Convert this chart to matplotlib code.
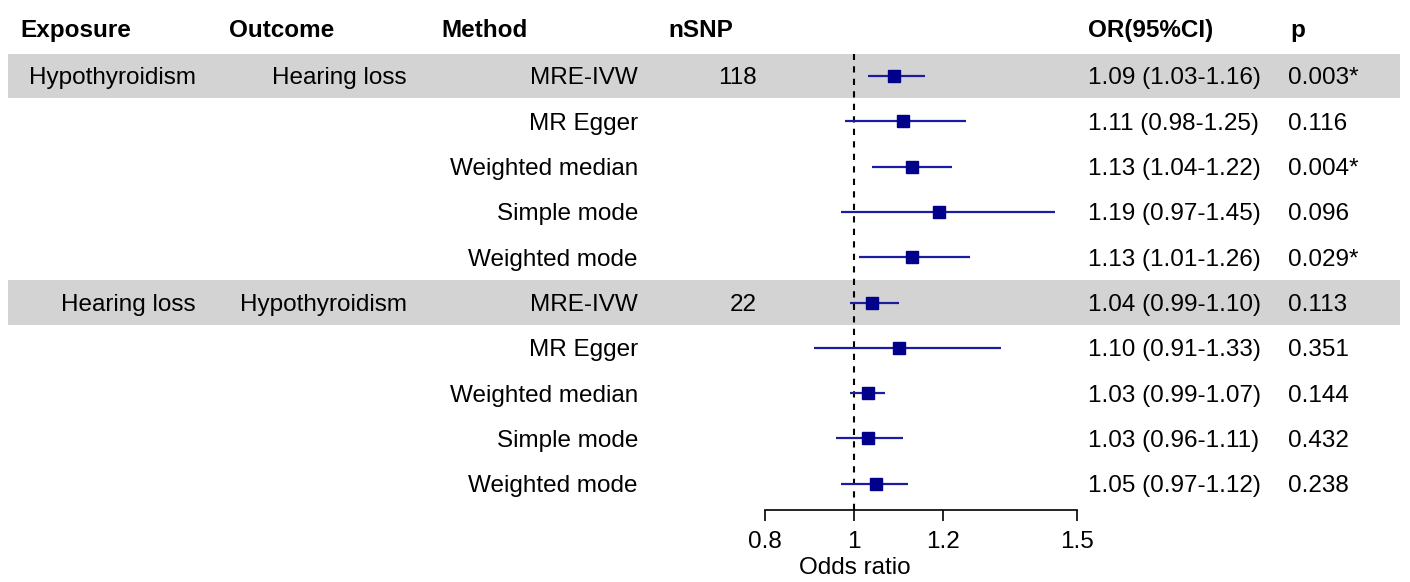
import matplotlib.pyplot as plt

# Data
exposures = ["Hypothyroidism", "", "", "", "", "Hearing loss", "", "", "", ""]
outcomes = ["Hearing loss", "", "", "", "", "Hypothyroidism", "", "", "", ""]
methods = ["MRE-IVW", "MR Egger", "Weighted median", "Simple mode", "Weighted mode"] * 2
nsnps = ["118", "", "", "", "", "22", "", "", "", ""]
or_vals = [1.09, 1.11, 1.13, 1.19, 1.13, 1.04, 1.10, 1.03, 1.03, 1.05]
ci_low = [1.03, 0.98, 1.04, 0.97, 1.01, 0.99, 0.91, 0.99, 0.96, 0.97]
ci_high = [1.16, 1.25, 1.22, 1.45, 1.26, 1.10, 1.33, 1.07, 1.11, 1.12]
p_labels = ["0.003*", "0.116", "0.004*", "0.096", "0.029*",
            "0.113", "0.351", "0.144", "0.432", "0.238"]
shaded_rows = [0, 5]
x_ticks = [0.8, 1, 1.2, 1.5]
x_ticklabels = ["0.8", "1", "1.2", "1.5"]

plt.rcParams['font.family'] = ['Liberation Sans', 'DejaVu Sans']
fs = 17.5

W, H = 1410, 582
fig = plt.figure(figsize=(W / 100, H / 100), dpi=100)

# row layout: row r centered at pixel 76 + 45.3*r
row0, step = 76.0, 45.3
def px_to_row(p):
    return (p - row0) / step

base_off = 8.5 / step  # baseline sits a bit below the row centre

# background axes for the table (x in pixels, y in row units)
ax0 = fig.add_axes([0, 0, 1, 1])
ax0.set_xlim(0, W)
ax0.set_ylim(px_to_row(H), px_to_row(0))
ax0.axis('off')

for r in shaded_rows:
    ax0.fill_between([8, 1400], r - 0.49, r + 0.49, color='#d3d3d3', lw=0, zorder=0)

hy = px_to_row(37)
for x, lab in [(20, "Exposure"), (229, "Outcome"), (441, "Method"), (668, "nSNP"),
               (1088, "OR(95%CI)"), (1290, "p")]:
    ax0.text(x, hy, lab, fontsize=fs, fontweight='bold', ha='left', va='baseline')

for i in range(len(methods)):
    y = i + base_off
    ax0.text(196, y, exposures[i], fontsize=fs, ha='right', va='baseline')
    ax0.text(407, y, outcomes[i], fontsize=fs, ha='right', va='baseline')
    ax0.text(638, y, methods[i], fontsize=fs, ha='right', va='baseline')
    ax0.text(757, y, nsnps[i], fontsize=fs, ha='right', va='baseline')
    ax0.text(1088, y, f"{or_vals[i]:.2f} ({ci_low[i]:.2f}-{ci_high[i]:.2f})",
             fontsize=fs, ha='left', va='baseline')
    ax0.text(1288, y, p_labels[i], fontsize=fs, ha='left', va='baseline')

# forest axes
left_px, right_px = 765, 1077
top_px, bot_px = 54, 510
ax = fig.add_axes([left_px / W, 1 - bot_px / H, (right_px - left_px) / W, (bot_px - top_px) / H])
ax.set_xlim(0.8, 1.5)
ax.set_ylim(px_to_row(bot_px), px_to_row(top_px))
ax.patch.set_alpha(0)
for s in ['top', 'right', 'left']:
    ax.spines[s].set_visible(False)
ax.spines['bottom'].set_linewidth(1.2)
ax.set_yticks([])
ax.set_xticks(x_ticks)
ax.set_xticklabels(x_ticklabels, fontsize=fs)
ax.tick_params(axis='x', direction='out', length=8, width=1.2, pad=7)
ax.set_xlabel("Odds ratio", fontsize=fs)
ax.xaxis.set_label_coords((855 - left_px) / (right_px - left_px), -47 / (bot_px - top_px))

ax.axvline(1, color='black', linestyle=(0, (3, 3)), linewidth=1.5, zorder=1)
rows = list(range(len(or_vals)))
ax.hlines(rows, ci_low, ci_high, color='#1c1ca0', linewidth=1.6, zorder=2)
ax.plot(or_vals, rows, 's', color='#00008b', markersize=9, zorder=3)

fig.savefig('out.png', dpi=100)
plt.close(fig)
